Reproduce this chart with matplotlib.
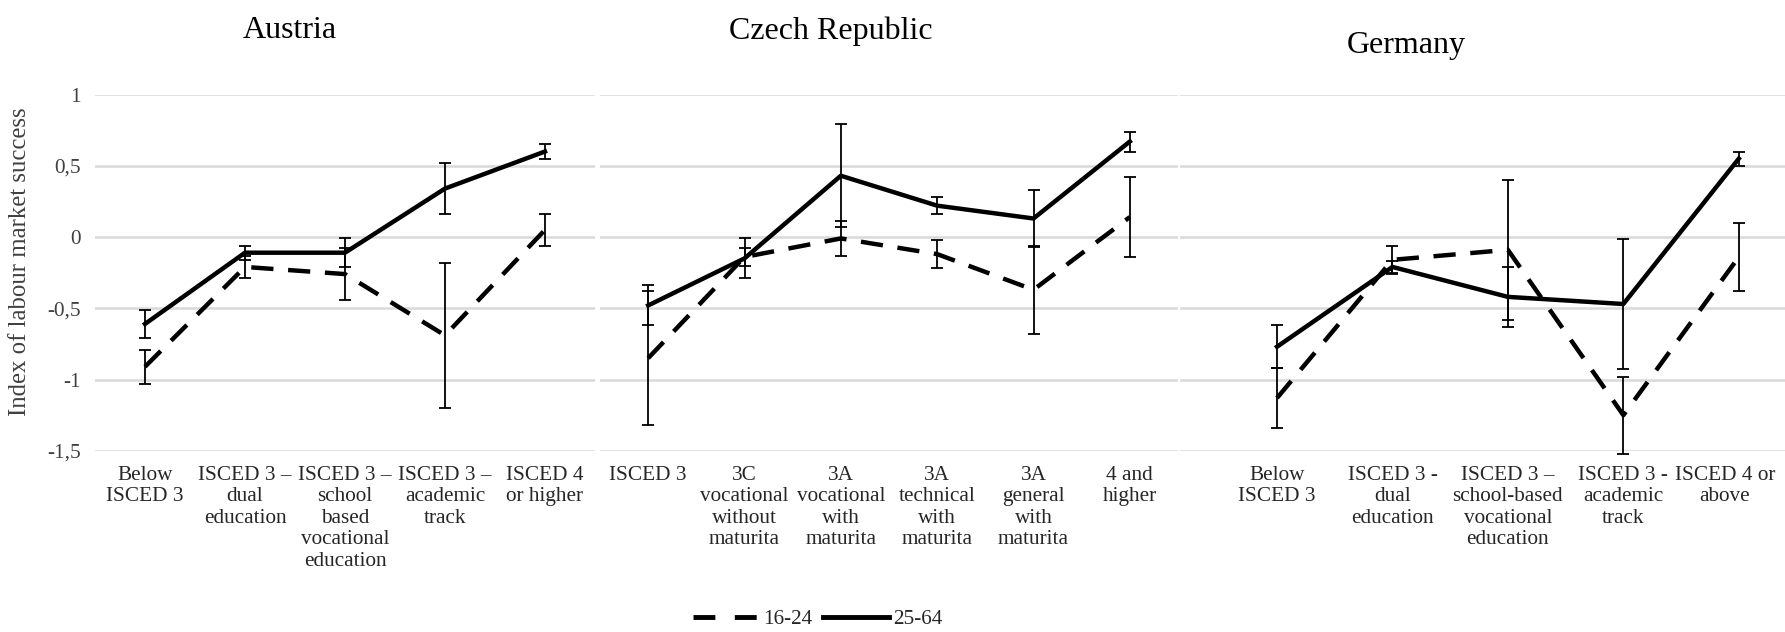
import matplotlib
matplotlib.use("Agg")
import matplotlib.pyplot as plt
import matplotlib.transforms as mtransforms
from matplotlib.lines import Line2D

plt.rcParams['font.family'] = ['Liberation Serif', 'DejaVu Serif']

# ---------------- data ----------------
austria_cats = ["Below\nISCED 3", "ISCED 3 –\ndual\neducation",
                "ISCED 3 –\nschool\nbased\nvocational\neducation",
                "ISCED 3 –\nacademic\ntrack", "ISCED 4\nor higher"]
austria_young = [-0.91, -0.21, -0.26, -0.69, 0.05]
austria_young_err = [0.12, 0.08, 0.18, 0.51, 0.11]
austria_old = [-0.61, -0.11, -0.11, 0.34, 0.60]
austria_old_err = [0.10, 0.05, 0.10, 0.18, 0.055]

czech_cats = ["ISCED 3", "3C\nvocational\nwithout\nmaturita",
              "3A\nvocational\nwith\nmaturita", "3A\ntechnical\nwith\nmaturita",
              "3A\ngeneral\nwith\nmaturita", "4 and\nhigher"]
czech_young = [-0.85, -0.14, -0.01, -0.12, -0.37, 0.14]
czech_young_err = [0.47, 0.06, 0.12, 0.10, 0.31, 0.28]
czech_old = [-0.48, -0.15, 0.43, 0.22, 0.13, 0.67]
czech_old_err = [0.14, 0.14, 0.36, 0.06, 0.20, 0.07]

germany_cats = ["Below\nISCED 3", "ISCED 3 -\ndual\neducation",
                "ISCED 3 –\nschool-based\nvocational\neducation",
                "ISCED 3 -\nacademic\ntrack", "ISCED 4 or\nabove"]
germany_young = [-1.13, -0.16, -0.09, -1.25, -0.14]
germany_young_err = [0.21, 0.10, 0.49, 0.27, 0.24]
germany_old = [-0.77, -0.21, -0.42, -0.47, 0.55]
germany_old_err = [0.15, 0.04, 0.21, 0.455, 0.05]

yticks = [-1.5, -1.0, -0.5, 0.0, 0.5, 1.0]
ytick_labels = ["-1,5", "-1", "-0,5", "0", "0,5", "1"]
legend_labels = ["16-24", "25-64"]
titles = ["Austria", "Czech Republic", "Germany"]

# ---------------- figure ----------------
W, H = 1785, 632
fig = plt.figure(figsize=(W / 100, H / 100), dpi=100)

def fx(px):
    return px / W

ybot = 1 - 450.8 / H
yh = 356.3 / H

panels = [
    (austria_cats, austria_young, austria_young_err, austria_old, austria_old_err,
     (95, 595), (-0.5, 4.5), True),
    (czech_cats, czech_young, czech_young_err, czech_old, czech_old_err,
     (600, 1178), (-0.5, 5.5), False),
    (germany_cats, germany_young, germany_young_err, germany_old, germany_old_err,
     (1180, 1785), (-0.84, 4.40), False),
]

FS = 15.3
TXT = '#262626'
DASH = (5, 3.3)
axes = []
for cats, yv, ye, ov, oe, (l, r), xl, show_y in panels:
    ax = fig.add_axes([fx(l), ybot, fx(r - l), yh])
    axes.append(ax)
    x = list(range(len(cats)))
    ax.errorbar(x, ov, yerr=oe, fmt='none', ecolor='black', elinewidth=1.3,
                capsize=4.5, capthick=1.3, clip_on=False, zorder=3)
    ax.errorbar(x, yv, yerr=ye, fmt='none', ecolor='black', elinewidth=1.3,
                capsize=4.5, capthick=1.3, clip_on=False, zorder=3)
    ax.plot(x, yv, color='black', lw=3.2, dashes=DASH, clip_on=False, zorder=4)
    ax.plot(x, ov, color='black', lw=3.2, clip_on=False, zorder=4)
    ax.set_ylim(-1.5, 1.0)
    ax.set_xlim(*xl)
    ax.set_yticks(yticks)
    ax.grid(axis='y', color='#d9d9d9', lw=1.8)
    ax.set_axisbelow(True)
    for s in ax.spines.values():
        s.set_visible(False)
    ax.set_xticks(x)
    ax.set_xticklabels(cats, fontsize=FS, linespacing=1.17, va='top', color=TXT)
    ax.tick_params(axis='both', length=0, pad=11)
    if show_y:
        ax.set_yticklabels(ytick_labels, fontsize=FS, color='#404040')
        ax.tick_params(axis='y', pad=10)
    else:
        ax.set_yticklabels([])

# keep the last German label inside the figure
last = axes[2].get_xticklabels()[-1]
last.set_transform(last.get_transform() +
                   mtransforms.ScaledTranslation(-14 / 100, 0, fig.dpi_scale_trans))

# titles
fig.text(fx(290), 1 - 31 / H, titles[0], fontsize=23, ha='center', va='center')
fig.text(fx(831), 1 - 31 / H, titles[1], fontsize=23, ha='center', va='center')
fig.text(fx(1406), 1 - 46 / H, titles[2], fontsize=23, ha='center', va='center')

# y label
fig.text(fx(20), 1 - 262 / H, "Index of labour market success", rotation=90,
         fontsize=17.8, ha='center', va='center', color='#404040')

handles = [Line2D([], [], color='black', lw=3.5, dashes=(4.5, 4)),
           Line2D([], [], color='black', lw=3.5)]
fig.legend(handles, legend_labels, loc='center', bbox_to_anchor=(fx(818), 0.02),
           ncol=2, frameon=False, fontsize=FS, handlelength=3.1,
           columnspacing=0.5, handletextpad=0.2, labelcolor=TXT)

fig.savefig("out.png", dpi=100)
